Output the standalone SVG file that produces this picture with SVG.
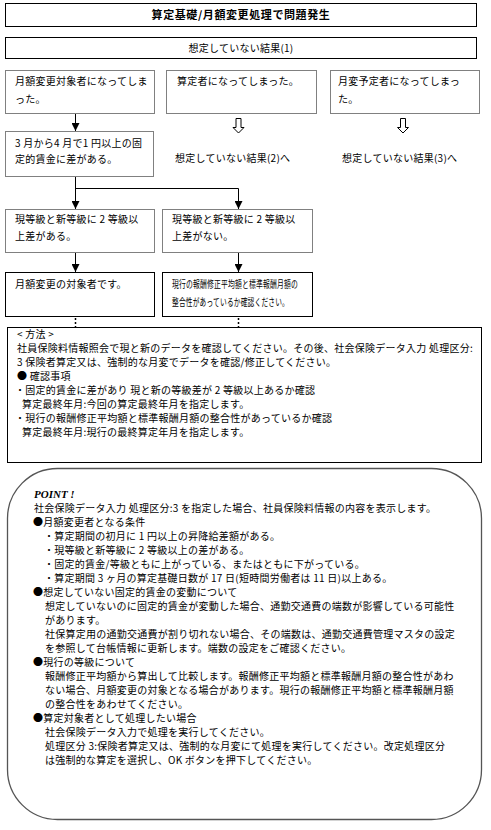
<svg xmlns="http://www.w3.org/2000/svg" width="491" height="830" viewBox="0 0 491 830">
<defs>
<style>
.t{font-family:"Noto Sans CJK JP","Noto Sans CJK SC",sans-serif;font-size:10px;fill:#000;letter-spacing:0.25px}
.tb{font-family:"Noto Sans CJK JP",sans-serif;font-size:11px;font-weight:bold;fill:#000;letter-spacing:0.6px}
.bk{fill:#fff;stroke:#000;stroke-width:1}
.gr{fill:#fff;stroke:#808080;stroke-width:1}
.ln{fill:none;stroke:#000;stroke-width:1}
.dt{fill:none;stroke:#000;stroke-width:1.5;stroke-dasharray:2,2}
.ha{fill:#fff;stroke:#000;stroke-width:1}
</style>
<marker id="ah" viewBox="0 0 8 8" refX="8" refY="4" markerWidth="8" markerHeight="8" markerUnits="userSpaceOnUse" orient="auto">
<path d="M0,0 L8,4 L0,8 z" fill="#000"/>
</marker>
</defs>
<rect width="491" height="830" fill="#fff"/>

<g id="title">
<rect class="bk" x="5.5" y="3.5" width="471" height="23"/>
<text class="tb" x="241" y="19" text-anchor="middle">算定基礎/月額変更処理で問題発生</text>
</g>
<g id="result1">
<rect class="bk" x="5.5" y="37.5" width="471" height="21"/>
<text class="t" x="241" y="52" text-anchor="middle" letter-spacing="0.6">想定していない結果(1)</text>
</g>
<g id="boxA">
<rect class="gr" x="5.5" y="70.5" width="149" height="43"/>
<text class="t" x="15" y="85">月額変更対象者になってしま</text>
<text class="t" x="15" y="103">った。</text>
</g>
<g id="boxB">
<rect class="gr" x="166.5" y="70.5" width="150" height="43"/>
<text class="t" x="177" y="85">算定者になってしまった。</text>
</g>
<g id="boxC">
<rect class="gr" x="330.5" y="70.5" width="149" height="43"/>
<text class="t" x="338" y="85">月変予定者になってしまっ</text>
<text class="t" x="338" y="103">た。</text>
</g>
<g id="boxD">
<rect class="gr" x="5.5" y="131.5" width="148" height="45"/>
<text class="t" x="15" y="147">3 月から4 月で1 円以上の固</text>
<text class="t" x="15" y="163">定的賃金に差がある。</text>
</g>
<g id="result2">
<text class="t" x="175" y="162">想定していない結果(2)へ</text>
</g>
<g id="result3">
<text class="t" x="342" y="162">想定していない結果(3)へ</text>
</g>
<g id="boxE">
<rect class="gr" x="5.5" y="209.5" width="149" height="43"/>
<text class="t" x="15" y="223">現等級と新等級に 2 等級以</text>
<text class="t" x="15" y="240">上差がある。</text>
</g>
<g id="boxF">
<rect class="gr" x="162.5" y="209.5" width="150" height="43"/>
<text class="t" x="172" y="223">現等級と新等級に 2 等級以</text>
<text class="t" x="172" y="240">上差がない。</text>
</g>
<g id="boxG">
<rect class="bk" x="5.5" y="272.5" width="149" height="44"/>
<text class="t" x="15" y="288">月額変更の対象者です。</text>
</g>
<g id="boxH">
<rect class="bk" x="162.5" y="272.5" width="150" height="44"/>
<text class="t" x="172" y="288" font-size="9.5" letter-spacing="0" textLength="126" lengthAdjust="spacingAndGlyphs">現行の報酬修正平均額と標準報酬月額の</text>
<text class="t" x="172" y="306" font-size="9.5" letter-spacing="0" textLength="117" lengthAdjust="spacingAndGlyphs">整合性があっているか確認ください。</text>
</g>

<g id="connectors">
<line class="ln" x1="75.5" y1="114" x2="75.5" y2="131" marker-end="url(#ah)"/>
<path class="ha" d="M236,118.5 H241 V127.5 H244 L238.5,133 L233,127.5 H236 Z"/>
<path class="ha" d="M400.5,118.5 H405.5 V127.5 H408.5 L403,133 L397.5,127.5 H400.5 Z"/>
<line class="ln" x1="75.5" y1="177" x2="75.5" y2="209" marker-end="url(#ah)"/>
<polyline class="ln" points="75.5,188.5 238.5,188.5 238.5,209" stroke="#2d4a2d" marker-end="url(#ah)"/>
<line class="ln" x1="75.5" y1="253" x2="75.5" y2="272" marker-end="url(#ah)"/>
<line class="ln" x1="238.5" y1="253" x2="238.5" y2="272" marker-end="url(#ah)"/>
<line class="dt" x1="75.5" y1="318" x2="75.5" y2="327"/>
<line class="dt" x1="238.5" y1="318" x2="238.5" y2="327"/>
</g>

<g id="method">
<rect class="bk" x="7.5" y="327.5" width="474" height="135"/>
<text class="t" x="17" y="338">&lt; 方法 &gt;</text>
<text class="t" x="17" y="352">社員保険料情報照会で現と新のデータを確認してください。その後、社会保険データ入力 処理区分:</text>
<text class="t" x="17" y="366">3 保険者算定又は、強制的な月変でデータを確認/修正してください。</text>
<text class="t" x="17" y="380">● 確認事項</text>
<text class="t" x="15" y="394">・固定的賃金に差があり 現と新の等級差が 2 等級以上あるか確認</text>
<text class="t" x="22" y="408">算定最終年月:今回の算定最終年月を指定します。</text>
<text class="t" x="15" y="422">・現行の報酬修正平均額と標準報酬月額の整合性があっているか確認</text>
<text class="t" x="22" y="436">算定最終年月:現行の最終算定年月を指定します。</text>
</g>

<g id="point">
<rect x="7.5" y="468.5" width="474" height="351" rx="50" ry="50" fill="#fff" stroke="#555" stroke-width="1.3"/>
<text x="34" y="498" font-family="Liberation Serif,serif" font-size="11" font-weight="bold" font-style="italic">POINT !</text>
<text class="t" x="34" y="512">社会保険データ入力 処理区分:3 を指定した場合、社員保険料情報の内容を表示します。</text>
<text class="t" x="33" y="526">●月額変更者となる条件</text>
<text class="t" x="44" y="540">・算定期間の初月に 1 円以上の昇降給差額がある。</text>
<text class="t" x="44" y="554">・現等級と新等級に 2 等級以上の差がある。</text>
<text class="t" x="44" y="568">・固定的賃金/等級ともに上がっている、またはともに下がっている。</text>
<text class="t" x="44" y="582">・算定期間 3 ヶ月の算定基礎日数が 17 日(短時間労働者は 11 日)以上ある。</text>
<text class="t" x="33" y="596">●想定していない固定的賃金の変動について</text>
<text class="t" x="45" y="610">想定していないのに固定的賃金が変動した場合、通勤交通費の端数が影響している可能性</text>
<text class="t" x="45" y="624">があります。</text>
<text class="t" x="45" y="638">社保算定用の通勤交通費が割り切れない場合、その端数は、通勤交通費管理マスタの設定</text>
<text class="t" x="45" y="652">を参照して台帳情報に更新します。端数の設定をご確認ください。</text>
<text class="t" x="33" y="666">●現行の等級について</text>
<text class="t" x="45" y="680">報酬修正平均額から算出して比較します。報酬修正平均額と標準報酬月額の整合性があわ</text>
<text class="t" x="45" y="694">ない場合、月額変更の対象となる場合があります。現行の報酬修正平均額と標準報酬月額</text>
<text class="t" x="45" y="708">の整合性をあわせてください。</text>
<text class="t" x="33" y="722">●算定対象者として処理したい場合</text>
<text class="t" x="45" y="736">社会保険データ入力で処理を実行してください。</text>
<text class="t" x="45" y="750">処理区分 3:保険者算定又は、強制的な月変にて処理を実行してください。改定処理区分</text>
<text class="t" x="45" y="764">は強制的な算定を選択し、OK ボタンを押下してください。</text>
</g>
</svg>
